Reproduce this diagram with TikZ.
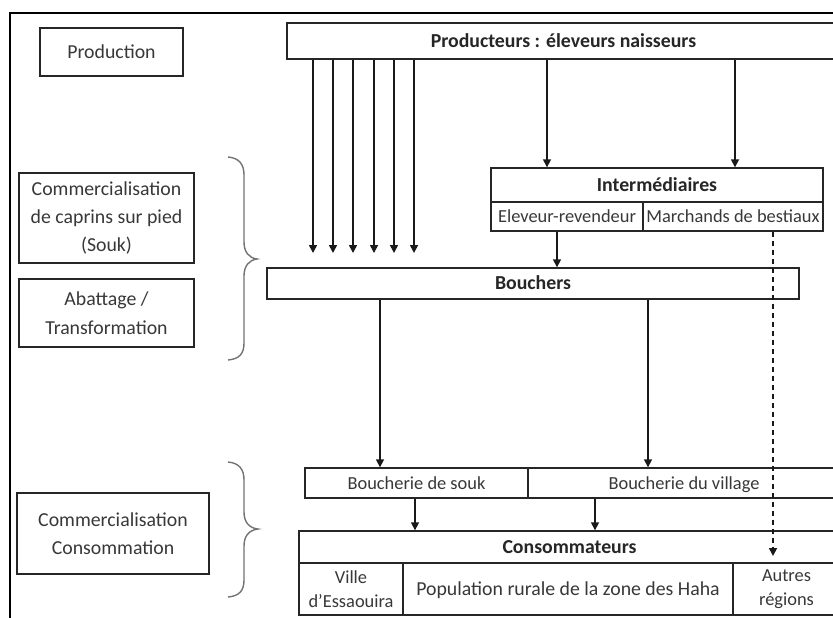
\documentclass[tikz,border=0pt]{standalone}
\usepackage{fontspec}
\setmainfont{Carlito}
\usetikzlibrary{arrows.meta}
\begin{document}
\begin{tikzpicture}[x=0.5pt,y=-0.5pt,
  cell/.style={draw=black!85, line width=0.7pt, inner sep=0pt, align=center, text=black!78, font=\fontsize{9.9}{14.2}\selectfont},
  oneline/.style={text height=0.72em, text depth=0.12em},
  smalltxt/.style={font=\fontsize{9.2}{12}\selectfont},
  boldtxt/.style={font=\fontsize{9.9}{12}\selectfont\bfseries, text=black!85},
  arr/.style={-{Triangle[length=4pt,width=4pt]}, line width=0.8pt, black!90},
  dasharr/.style={arr, dash pattern=on 2.5pt off 2pt},
  bracel/.style={draw=black!55, line width=0.7pt}]
\useasboundingbox (0,0) rectangle (833,617);
\clip (0,0) rectangle (833,617);
\fill[white] (0,0) rectangle (833,617);
% frame
\draw[line width=1pt] (10,700) -- (10,13) -- (900,13);
% left labels
\node[cell, oneline, minimum width=71.5pt, minimum height=24pt] (production) at (111.5,52) {Production};
\node[cell, minimum width=87.5pt, minimum height=45pt] (caprins) at (106.5,218) {Commercialisation\\de caprins sur pied\\(Souk)};
\node[cell, minimum width=87.5pt, minimum height=34pt] (abattage) at (106.5,313) {Abattage /\\Transformation};
\node[cell, minimum width=96pt, minimum height=40.5pt] (commconso) at (113,533.5) {Commercialisation\\Consommation};
% braces
\draw[bracel] (228,157) .. controls (239,158) and (244,164) .. (244,175) -- (244,242) .. controls (244,252) and (249,258) .. (257,259) .. controls (249,260) and (244,266) .. (244,276) -- (244,343) .. controls (244,354) and (239,359) .. (228,360);
\draw[bracel] (228,462) .. controls (239,463) and (244,469) .. (244,480) -- (244,512) .. controls (244,522) and (249,528) .. (258,529) .. controls (249,530) and (244,536) .. (244,546) -- (244,580) .. controls (244,591) and (239,596) .. (228,597);
% main boxes
\node[cell, boldtxt, oneline, minimum width=276.5pt, minimum height=18pt] (producteurs) at (563.5,41) {Producteurs : éleveurs naisseurs};
\node[cell, boldtxt, oneline, minimum width=166pt, minimum height=17pt] (inter) at (657,185) {Intermédiaires};
\node[cell, smalltxt, oneline, minimum width=76pt, minimum height=14.5pt] (eleveur) at (567,216.5) {Eleveur-revendeur};
\node[cell, smalltxt, oneline, minimum width=90pt, minimum height=14.5pt] (marchands) at (733,216.5) {Marchands de bestiaux};
\node[cell, boldtxt, oneline, minimum width=266pt, minimum height=15.5pt] (bouchers) at (533,283.5) {Bouchers};
\node[cell, smalltxt, oneline, minimum width=111.5pt, minimum height=15pt] (bsouk) at (416.5,483) {Boucherie de souk};
\node[cell, smalltxt, oneline, minimum width=156pt, minimum height=15pt] (bvillage) at (684,483) {Boucherie du village};
\node[cell, boldtxt, oneline, minimum width=270.5pt, minimum height=16pt] (conso) at (569.5,547) {Consommateurs};
\node[cell, smalltxt, minimum width=52pt, minimum height=26pt] (ville) at (351,589) {Ville\\d’Essaouira};
\node[cell, oneline, minimum width=165pt, minimum height=26pt] (rurale) at (568,589) {Population rurale de la zone des Haha};
\node[cell, smalltxt, minimum width=53.5pt, minimum height=26pt] (autres) at (786.5,589) {Autres\\régions};
% arrow columns
\coordinate (a1) at (313,253);
\coordinate (a2) at (333,253);
\coordinate (a3) at (353,253);
\coordinate (a4) at (374,253);
\coordinate (a5) at (394,253);
\coordinate (a6) at (414,253);
\foreach \c in {a1,a2,a3,a4,a5,a6} \draw[arr] (producteurs.south -| \c) -- (\c);
\coordinate (x547) at (547,0);
\coordinate (x735) at (735,0);
\coordinate (x557) at (557,0);
\coordinate (x380) at (380,0);
\coordinate (x648) at (648,0);
\coordinate (x415) at (415,0);
\coordinate (x595) at (595,0);
\draw[arr] (producteurs.south -| x547) -- (inter.north -| x547);
\draw[arr] (producteurs.south -| x735) -- (inter.north -| x735);
\draw[arr] (eleveur.south -| x557) -- (bouchers.north -| x557);
\draw[arr] (bouchers.south -| x380) -- (bsouk.north -| x380);
\draw[arr] (bouchers.south -| x648) -- (bvillage.north -| x648);
\draw[arr] (bsouk.south -| x415) -- (conso.north -| x415);
\draw[arr] (bsouk.south -| x595) -- (conso.north -| x595);
\coordinate (dend) at (773,556);
\draw[dasharr] (marchands.south -| dend) -- (dend);
\end{tikzpicture}
\end{document}
